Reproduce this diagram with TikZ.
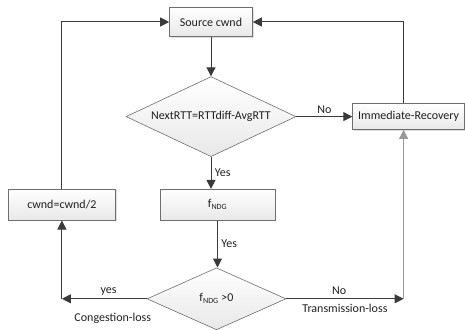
\documentclass[tikz,border=0pt]{standalone}
\usepackage{fontspec}
\setmainfont{Carlito}
\usepackage{tikz}
\usetikzlibrary{positioning}
\usetikzlibrary{shapes.geometric,arrows.meta,shadows}

\definecolor{linegray}{HTML}{3A3A3A}
\definecolor{boxline}{HTML}{6E6E6E}
\definecolor{txtgray}{HTML}{202020}

\begin{document}
\begin{tikzpicture}[font=\fontsize{12}{14}\selectfont, text=txtgray,
    line width=1pt, draw=linegray,
    main/.style = {draw=boxline, line width=0.6pt, rectangle, top color=white, bottom color=gray!18,
        drop shadow={shadow xshift=1.2pt, shadow yshift=-1.2pt, opacity=0.25}},
    dec/.style = {draw=boxline, line width=0.6pt, diamond, inner sep=0pt, top color=white, bottom color=gray!18},
    arr/.style = {draw=linegray, -{Triangle[length=9pt, width=9pt]}}]
            \useasboundingbox (0pt,0pt) rectangle (465pt,-329pt);
            % Nodes
            \node[main, minimum width=83pt, minimum height=29pt] (src) at (211pt,-22pt) {Source cwnd};
            \node[dec, minimum width=170pt, minimum height=80pt, aspect=2.1] (d1) [below=39.5pt of src] {NextRTT=RTTdiff-AvgRTT};
            \node[main, minimum width=112pt, minimum height=26pt] (ir) [right=56pt of d1] {Immediate-Recovery};
            \node[main, minimum width=115pt, minimum height=31pt] (fndg) [below=32pt of d1, xshift=6.5pt] {f\textsubscript{NDG}};
            \node[dec, minimum width=139pt, minimum height=62pt, aspect=2.2] (d2) [below=47pt of fndg, xshift=-1pt] {f\textsubscript{NDG} >0};
            \node[main, minimum width=107pt, minimum height=31pt] (cwnd) [left=44pt of fndg] {cwnd=cwnd/2};
            \coordinate (cl) at (cwnd.south |- d2.west);
            \coordinate (irb) at ([xshift=-5pt]ir.south);
            \coordinate (irt) at ([xshift=-5pt]ir.north);
            \coordinate (tl) at (irb |- d2.east);
            % Edges
            \draw[arr] (src) -- (d1);
            \draw[arr] (d1.east) -- node[above, yshift=-1pt] {No} (ir.west);
            \draw[arr] (d1.south) -- node[right] {Yes} (d1.south |- fndg.north);
            \draw[arr] (fndg.south) -- node[right] {Yes} (fndg.south |- d2.north);
            \draw[arr] (d2.west) -- node[above, pos=0.45] {yes} node[below=11pt, pos=0.4] {Congestion-loss} (cl);
            \draw[arr] (cl) -- (cwnd.south);
            \draw[arr] (cwnd.north) |- (src.west);
            \draw[arr] (d2.east) -- node[above, pos=0.45] {No} node[below=2pt, pos=0.5] {Transmission-loss} (tl);
            \draw[arr, draw=gray!80] (tl) -- (irb);
            \draw[arr] (irt) |- (src.east);
            \end{tikzpicture}
\end{document}
